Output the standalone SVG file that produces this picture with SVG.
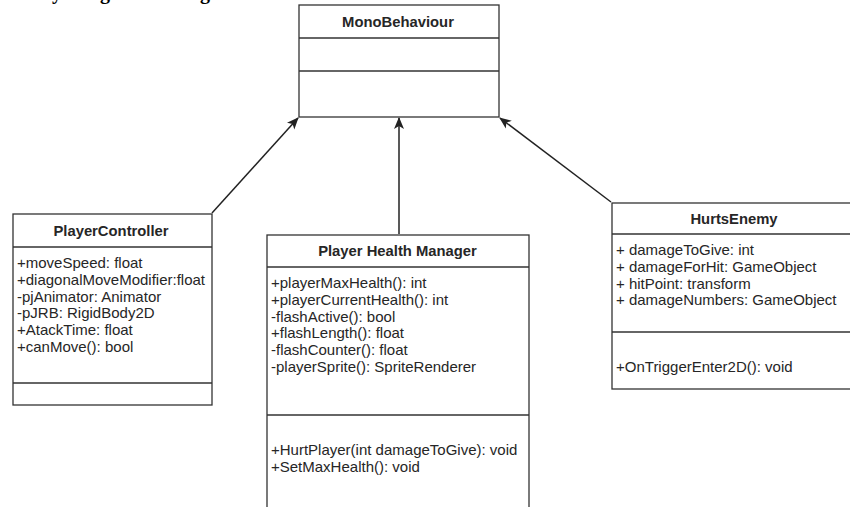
<svg xmlns="http://www.w3.org/2000/svg" width="850" height="507" viewBox="0 0 850 507">
  <style>
    .box { fill: #ffffff; stroke: #333333; stroke-width: 1.3; }
    .sep { stroke: #333333; stroke-width: 1.3; fill: none; }
    .title { font-family: "Liberation Sans", Arial, sans-serif; font-size: 14.8px; font-weight: bold; fill: #262626; text-anchor: middle; }
    .member { font-family: "Liberation Sans", Arial, sans-serif; font-size: 15px; fill: #262626; }
    .edge { stroke: #222222; stroke-width: 1.5; fill: none; marker-end: url(#classic); }
    .heading { font-family: "Liberation Serif", "Times New Roman", serif; font-size: 20px; font-weight: bold; fill: #000000; }
  </style>
  <defs>
    <marker id="classic" viewBox="0 0 12 12" refX="11" refY="6" markerWidth="12" markerHeight="12" markerUnits="userSpaceOnUse" orient="auto">
      <path d="M0,1 L12,6 L0,11 L3,6 Z" fill="#222222"/>
    </marker>
  </defs>
  <rect width="850" height="507" fill="#ffffff"/>

  <!-- heading line clipped by the top edge -->
  <g id="heading">
    <text class="heading" x="52" y="-1.5">y</text>
    <text class="heading" x="100" y="-1.5">g</text>
    <text class="heading" x="200" y="-1.5">g</text>
  </g>

  <g id="connectors">
    <line class="edge" x1="212" y1="213" x2="298" y2="118"/>
    <line class="edge" x1="399" y1="234" x2="399" y2="118"/>
    <line class="edge" x1="611" y1="202" x2="500" y2="118"/>
  </g>

  <g id="MonoBehaviour">
    <rect class="box" x="299" y="5" width="200" height="112"/>
    <line class="sep" x1="299" y1="38" x2="499" y2="38"/>
    <line class="sep" x1="299" y1="71" x2="499" y2="71"/>
    <text class="title" x="398" y="27">MonoBehaviour</text>
  </g>

  <g id="PlayerController">
    <rect class="box" x="13" y="214" width="199" height="191"/>
    <line class="sep" x1="13" y1="247" x2="212" y2="247"/>
    <line class="sep" x1="13" y1="383" x2="212" y2="383"/>
    <text class="title" x="111" y="236">PlayerController</text>
    <text class="member" x="17" y="268">+moveSpeed: float</text>
    <text class="member" x="17" y="285">+diagonalMoveModifier:float</text>
    <text class="member" x="17" y="301.5">-pjAnimator: Animator</text>
    <text class="member" x="17" y="318">-pJRB: RigidBody2D</text>
    <text class="member" x="17" y="335">+AtackTime: float</text>
    <text class="member" x="17" y="351.5">+canMove(): bool</text>
  </g>

  <g id="PlayerHealthManager">
    <rect class="box" x="267" y="235" width="262" height="290"/>
    <line class="sep" x1="267" y1="267" x2="529" y2="267"/>
    <line class="sep" x1="267" y1="415" x2="529" y2="415"/>
    <text class="title" x="397.5" y="256">Player Health Manager</text>
    <text class="member" x="271" y="288">+playerMaxHealth(): int</text>
    <text class="member" x="271" y="305">+playerCurrentHealth(): int</text>
    <text class="member" x="271" y="321.5">-flashActive(): bool</text>
    <text class="member" x="271" y="338">+flashLength(): float</text>
    <text class="member" x="271" y="355">-flashCounter(): float</text>
    <text class="member" x="271" y="371.5">-playerSprite(): SpriteRenderer</text>
    <text class="member" x="271" y="455">+HurtPlayer(int damageToGive): void</text>
    <text class="member" x="271" y="471.5">+SetMaxHealth(): void</text>
  </g>

  <!-- this class box runs past the right edge of the canvas -->
  <g id="HurtsEnemy">
    <rect class="box" x="612" y="203" width="250" height="186"/>
    <line class="sep" x1="612" y1="234" x2="862" y2="234"/>
    <line class="sep" x1="612" y1="332" x2="862" y2="332"/>
    <text class="title" x="734" y="224">HurtsEnemy</text>
    <text class="member" x="616" y="255">+ damageToGive: int</text>
    <text class="member" x="616" y="272">+ damageForHit: GameObject</text>
    <text class="member" x="616" y="288.5">+ hitPoint: transform</text>
    <text class="member" x="616" y="305">+ damageNumbers: GameObject</text>
    <text class="member" x="616" y="372">+OnTriggerEnter2D(): void</text>
  </g>
</svg>
